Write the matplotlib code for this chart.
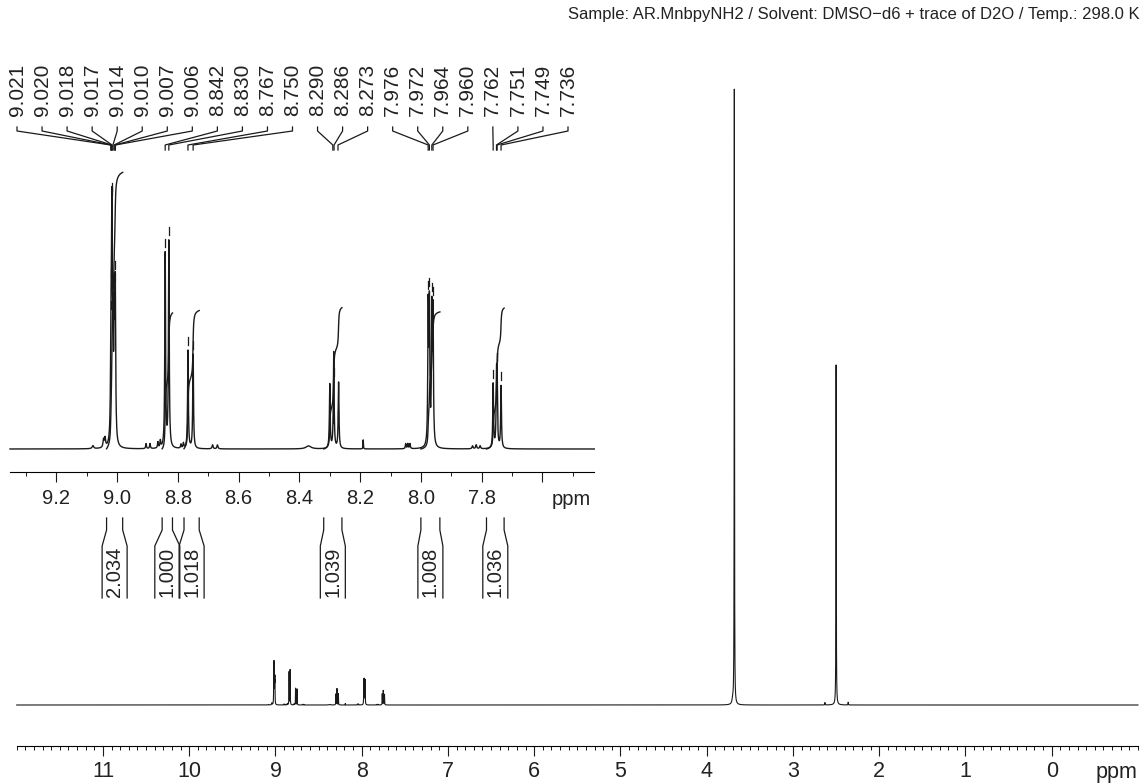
import numpy as np
import matplotlib
matplotlib.use("Agg")
import matplotlib.pyplot as plt
from matplotlib import transforms
from matplotlib.lines import Line2D
from matplotlib.ticker import FixedLocator

plt.rcParams['font.family'] = ['Liberation Sans', 'DejaVu Sans']

W, H = 1148, 784

# ------------------------------------------------------------------ data
title = "Sample: AR.MnbpyNH2 / Solvent: DMSO\u2212d6 + trace of D2O / Temp.: 298.0 K"

# aromatic lines (ppm, height in inset pixel units)
arom_ppm = [9.021, 9.020, 9.018, 9.017, 9.014, 9.010, 9.007, 9.006,
            8.842, 8.830, 8.767, 8.750,
            8.300, 8.287, 8.271,
            7.976, 7.972, 7.964, 7.960,
            7.762, 7.751, 7.749, 7.736]
arom_height = [50, 55, 120, 125, 80, 100, 90, 80,
               194, 206, 98, 94,
               64, 96, 66,
               135, 135, 130, 130,
               64, 60, 60, 62]

# small impurity lines
minor_ppm = [9.080, 9.045, 9.040, 8.905, 8.892, 8.866, 8.858, 8.790, 8.782,
             8.686, 8.670, 8.370, 8.190, 8.050, 8.043, 8.036,
             7.830, 7.818, 7.805, 3.700, 2.630, 2.360]
minor_height = [3, 8, 9, 5, 5, 6, 7, 4, 5,
                4, 4, 3, 9, 5, 5, 5,
                3, 4, 3, 22, 14, 16]
minor_width = [0.006, 0.004, 0.004, 0.003, 0.003, 0.003, 0.003, 0.003, 0.003,
               0.004, 0.004, 0.02, 0.0015, 0.003, 0.003, 0.003,
               0.004, 0.004, 0.004, 0.015, 0.004, 0.004]

# solvent / large lines
solv_ppm = [3.680, 2.500]
solv_height = [3620, 2000]

# picked peak labels
label_text = ["9.021", "9.020", "9.018", "9.017", "9.014", "9.010", "9.007",
              "9.006", "8.842", "8.830", "8.767", "8.750", "8.290", "8.286",
              "8.273", "7.976", "7.972", "7.964", "7.960", "7.762", "7.751",
              "7.749", "7.736"]

# integrals
int_left = [9.035, 8.852, 8.780, 8.320, 8.000, 7.784]
int_right = [8.982, 8.818, 8.730, 8.260, 7.9375, 7.726]
int_value = [2.034, 1.000, 1.018, 1.039, 1.008, 1.036]

main_ticks = [11, 10, 9, 8, 7, 6, 5, 4, 3, 2, 1, 0]
inset_ticks = [9.2, 9.0, 8.8, 8.6, 8.4, 8.2, 8.0, 7.8, 7.6]
inset_minor = [9.3, 9.1, 8.9, 8.7, 8.5, 8.3, 8.1, 7.9, 7.7, 7.5]

# ------------------------------------------------------------------ spectrum
ppm = np.linspace(12.0, -1.0, 26001)


def lor(x, x0, h, w):
    return h / (1.0 + (2.0 * (x - x0) / w) ** 2)


spec = np.zeros_like(ppm)
for p, h in zip(arom_ppm, arom_height):
    spec += lor(ppm, p, h, 0.003)
for p, h, w in zip(minor_ppm, minor_height, minor_width):
    spec += lor(ppm, p, h, w)
for p, h in zip(solv_ppm, solv_height):
    spec += lor(ppm, p, h, 0.004)

LC = "#1a1a1a"
TC = "#222222"

fig = plt.figure(figsize=(W / 100, H / 100), dpi=100)
pxT = transforms.Affine2D().scale(1.0 / W, -1.0 / H).translate(0, 1) + fig.transFigure


def rect(x0, y0, x1, y1):
    return [x0 / W, 1 - y1 / H, (x1 - x0) / W, (y1 - y0) / H]


# ------------------------------------------------------------------ main axes
ax = fig.add_axes(rect(16.7, 60, 1138, 746))
ax.set_xlim(12.0, -1.0)
k_main = 0.17
ax.set_ylim(-41 / k_main, (746 - 60 - 41) / k_main)
ax.plot(ppm, spec, color=LC, lw=0.8, clip_on=False)
for s in ["top", "left", "right"]:
    ax.spines[s].set_visible(False)
ax.spines["bottom"].set_linewidth(0.8)
ax.set_yticks([])
ax.xaxis.set_major_locator(FixedLocator(main_ticks))
ax.set_xticklabels([str(t) for t in main_ticks])
ax.xaxis.set_minor_locator(FixedLocator(np.round(np.arange(-1.0, 12.001, 0.1), 1)))
ax.tick_params(axis="x", which="major", length=7, width=0.8, direction="out",
               pad=4, labelsize=15.5, labelcolor=TC, color=LC)
ax.tick_params(axis="x", which="minor", length=3, width=0.7, direction="out", color=LC)
bt = transforms.blended_transform_factory(ax.transData, pxT)
ax.text(-0.75, 773, "ppm", transform=bt, ha="center", va="center",
        fontsize=15.5, color=TC)

# ------------------------------------------------------------------ inset axes
axi = fig.add_axes(rect(10, 150, 594.3, 472))
axi.set_xlim(9.353, 7.429)
axi.set_ylim(-23, 322 - 23)
m = (ppm <= 9.353) & (ppm >= 7.429)
axi.plot(ppm[m], spec[m], color=LC, lw=1.0, clip_on=False)
for s in ["top", "left", "right"]:
    axi.spines[s].set_visible(False)
axi.spines["bottom"].set_linewidth(0.8)
axi.set_yticks([])
axi.xaxis.set_major_locator(FixedLocator(inset_ticks))
axi.set_xticklabels(["%.1f" % t if t > 7.7 else "" for t in inset_ticks])
axi.xaxis.set_minor_locator(FixedLocator(inset_minor))
axi.tick_params(axis="x", which="major", length=7.5, width=0.8, direction="out",
                pad=5, labelsize=14.5, labelcolor=TC, color=LC)
axi.tick_params(axis="x", which="minor", length=3, width=0.7, direction="out", color=LC)
bti = transforms.blended_transform_factory(axi.transData, pxT)
axi.text(7.505, 500, "ppm", transform=bti, ha="center", va="center",
         fontsize=14.5, color=TC)

# integral curves
unit_px = 136.0
for l, r, v in zip(int_left, int_right, int_value):
    mm = (ppm <= l) & (ppm >= r)
    cum = np.cumsum(spec[mm])
    axi.plot(ppm[mm], cum / cum[-1] * v * unit_px, color=LC, lw=1.0, clip_on=False)

# integral brackets below inset axis
for l, r, v in zip(int_left, int_right, int_value):
    c = 0.5 * (l + r)
    xl = axi.transData.transform((l, 0))[0]
    xr = axi.transData.transform((r, 0))[0]
    xc = axi.transData.transform((c, 0))[0]
    for x0, x1 in ((xl, xc - 12.5), (xr, xc + 12.5)):
        fig.add_artist(Line2D([x0, x0, x1, x1], [518, 530, 546, 598],
                              transform=pxT, color=LC, lw=0.9))
    fig.text(xc / W, 1 - 572 / H, "%.3f" % v, rotation=90, ha="center",
             va="center", fontsize=14.5, color=TC)

# peak labels with connectors and markers
spec_r = spec[::-1]
ppm_r = ppm[::-1]
n = len(label_text)
label_x = np.linspace(17, 568, n)
for lx, t in zip(label_x, label_text):
    p = float(t)
    xp = axi.transData.transform((p, 0))[0]
    fig.add_artist(Line2D([lx, lx, xp, xp], [127, 131, 145, 150],
                          transform=pxT, color=LC, lw=0.9))
    fig.text(lx / W, 1 - 90 / H, t, rotation=90, ha="center", va="center",
             fontsize=15, color=TC)
    hval = np.interp(p, ppm_r, spec_r)
    axi.plot([p, p], [hval + 5, hval + 13], color=LC, lw=0.9, clip_on=False)

fig.text(1140 / W, 1 - 15 / H, title, ha="right", va="center",
         fontsize=12, color=TC)

fig.savefig("out.png", dpi=100)
